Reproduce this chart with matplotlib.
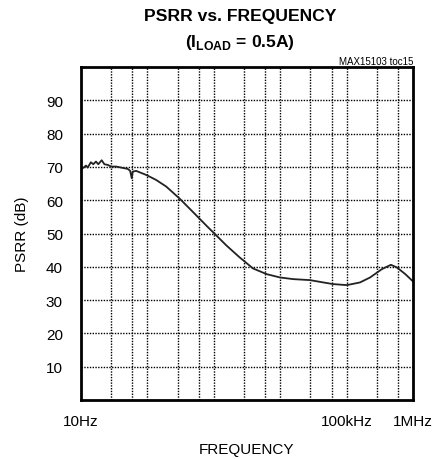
import numpy as np
import matplotlib
matplotlib.use("Agg")
import matplotlib.pyplot as plt
from matplotlib.ticker import FixedLocator, NullLocator

plt.rcParams['font.family'] = ['Liberation Sans', 'DejaVu Sans']
plt.rcParams['mathtext.fontset'] = 'custom'
plt.rcParams['mathtext.rm'] = 'Liberation Sans:bold'
plt.rcParams['mathtext.bf'] = 'Liberation Sans:bold'

# PSRR curve (Hz, dB)
freq_hz = [10.0, 10.6, 11.9, 12.6, 14.1, 15.3, 16.8, 18.2, 20.5, 22.5, 25.3, 28.4,
           33.8, 40.2, 45.1, 50.6, 55.0, 58.1, 60.2, 67.7, 76.0, 95.7, 135,
           192, 305, 483, 770, 973, 1550, 2460, 3900, 6240, 9900, 15700,
           28100, 44700, 63100, 100700, 159000, 226000, 340000, 465000,
           573000, 766000, 1000000]
psrr_db = [69.3, 69.6, 70.4, 69.8, 71.4, 70.8, 71.6, 70.8, 72.0, 70.8, 70.6, 70.1,
           70.1, 69.8, 69.6, 69.4, 68.8, 66.6, 68.6, 68.8, 68.4, 67.6, 66.1,
           64.1, 60.5, 56.5, 52.4, 50.4, 46.4, 42.8, 39.5, 37.8, 36.8, 36.3,
           36.0, 35.3, 34.8, 34.5, 35.3, 36.8, 39.3, 40.6, 39.8, 37.8, 35.6]

y_ticks = [10, 20, 30, 40, 50, 60, 70, 80, 90]
x_tick_pos = [10, 1e5, 1e6]
x_tick_labels = ['10Hz', '100kHz', '1MHz']

# vertical grid: two lines inside each decade plus the decade lines
x_grid = []
for d in [10, 100, 1e3, 1e4, 1e5]:
    x_grid += [d * 2.85, d * 5.95]
    if d > 10:
        x_grid.append(d)

fig = plt.figure(figsize=(4.32, 4.60), dpi=100)
ax = fig.add_axes([81 / 432, 59 / 460, 332 / 432, 333 / 460])

ax.plot(freq_hz, psrr_db, color='#222222', linewidth=1.3)

ax.set_xscale('log')
ax.set_xlim(10, 1e6)
ax.set_ylim(0, 100)

for xg in x_grid:
    ax.axvline(xg, color='black', linestyle=(0, (1, 1)), linewidth=1.0, zorder=0)
for yg in y_ticks:
    ax.axhline(yg, color='black', linestyle=(0, (1, 1)), linewidth=1.0, zorder=0)

ax.xaxis.set_major_locator(FixedLocator(x_tick_pos))
ax.xaxis.set_minor_locator(NullLocator())
ax.set_xticklabels(x_tick_labels)
ax.set_yticks(y_ticks)
ax.tick_params(length=0, labelsize=11)
ax.tick_params(axis='y', pad=13)
ax.tick_params(axis='x', pad=10)

for s in ax.spines.values():
    s.set_linewidth(2)

ax.set_xlabel('FREQUENCY', fontsize=11)
ax.xaxis.set_label_coords(0.5, (401 - 443) / 333)
ax.set_ylabel('PSRR (dB)', fontsize=11)
ax.yaxis.set_label_coords((29 - 81) / 332, 0.5)

fig.text(0.555, 1 - 17 / 460, 'PSRR vs. FREQUENCY', ha='center', va='center',
         fontsize=12.6, fontweight='bold')
fig.text(0.555, 1 - 42 / 460, r'(I$_{\mathbf{LOAD}}$ = 0.5A)', ha='center', va='center',
         fontsize=12.6, fontweight='bold')
fig.text(413 / 432, 1 - 62 / 460, 'MAX15103 toc15', ha='right', va='center',
         fontsize=7)

fig.savefig('out.png', dpi=100)
